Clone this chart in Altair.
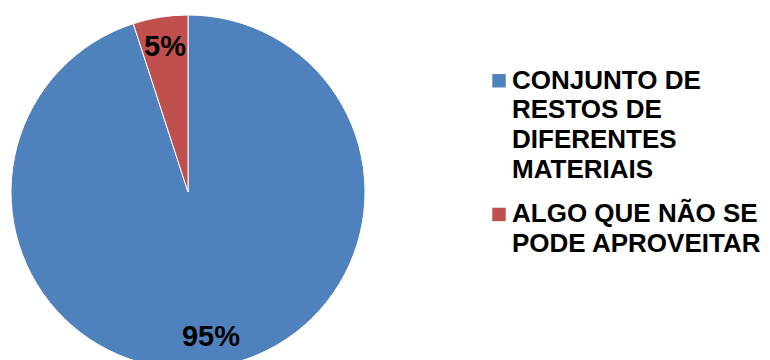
import altair as alt
import pandas as pd

categories = ["CONJUNTO DE RESTOS DE DIFERENTES MATERIAIS", "ALGO QUE NÃO SE PODE APROVEITAR"]
legend_lines = [["CONJUNTO DE", "RESTOS DE", "DIFERENTES", "MATERIAIS"],
                ["ALGO QUE NÃO SE", "PODE APROVEITAR"]]
values = [95, 5]
colors = ["#4F81BD", "#C0504D"]

pie_df = pd.DataFrame({
    "categoria": categories,
    "valor": values,
    "ordem": list(range(len(values))),
    "rotulo": [f"{v}%" for v in values],
})

color_scale = alt.Scale(domain=categories, range=colors)

base = alt.Chart(pie_df).encode(
    theta=alt.Theta("valor:Q", stack=True),
    order=alt.Order("ordem:Q"),
)
arcs = base.mark_arc(outerRadius=177, stroke="white", strokeWidth=1).encode(
    color=alt.Color("categoria:N", scale=color_scale, legend=None)
)
labels = base.mark_text(radius=147, font="Liberation Sans", fontSize=29,
                        fontWeight="bold", color="black").encode(text="rotulo:N")
pie = alt.layer(arcs, labels).properties(width=360, height=368)

# legend panel built from the same categories
line_rows = []
square_rows = []
start = 0.0
for cat, lines in zip(categories, legend_lines):
    square_rows.append({"categoria": cat, "pos": start})
    for j, txt in enumerate(lines):
        line_rows.append({"linha": txt, "pos": start + j})
    start += len(lines) + 0.5

line_h = 29.7
top = 2.45
yscale = alt.Scale(domain=[-top, 368 / line_h - top], reverse=True)

squares = alt.Chart(pd.DataFrame(square_rows)).mark_square(size=180, opacity=1).encode(
    x=alt.value(7),
    y=alt.Y("pos:Q", scale=yscale, axis=None),
    color=alt.Color("categoria:N", scale=color_scale, legend=None),
)
texts = alt.Chart(pd.DataFrame(line_rows)).mark_text(
    align="left", baseline="middle", font="Liberation Sans", fontSize=26,
    fontWeight="bold", color="black"
).encode(
    x=alt.value(20),
    y=alt.Y("pos:Q", scale=yscale, axis=None),
    text="linha:N",
)
legend_panel = alt.layer(squares, texts).properties(width=250, height=368)

chart = alt.hconcat(pie, legend_panel, spacing=124).properties(
    padding=0
).configure_view(strokeWidth=0)

chart.save("out.html", embed_options={"renderer": "svg", "actions": False})
